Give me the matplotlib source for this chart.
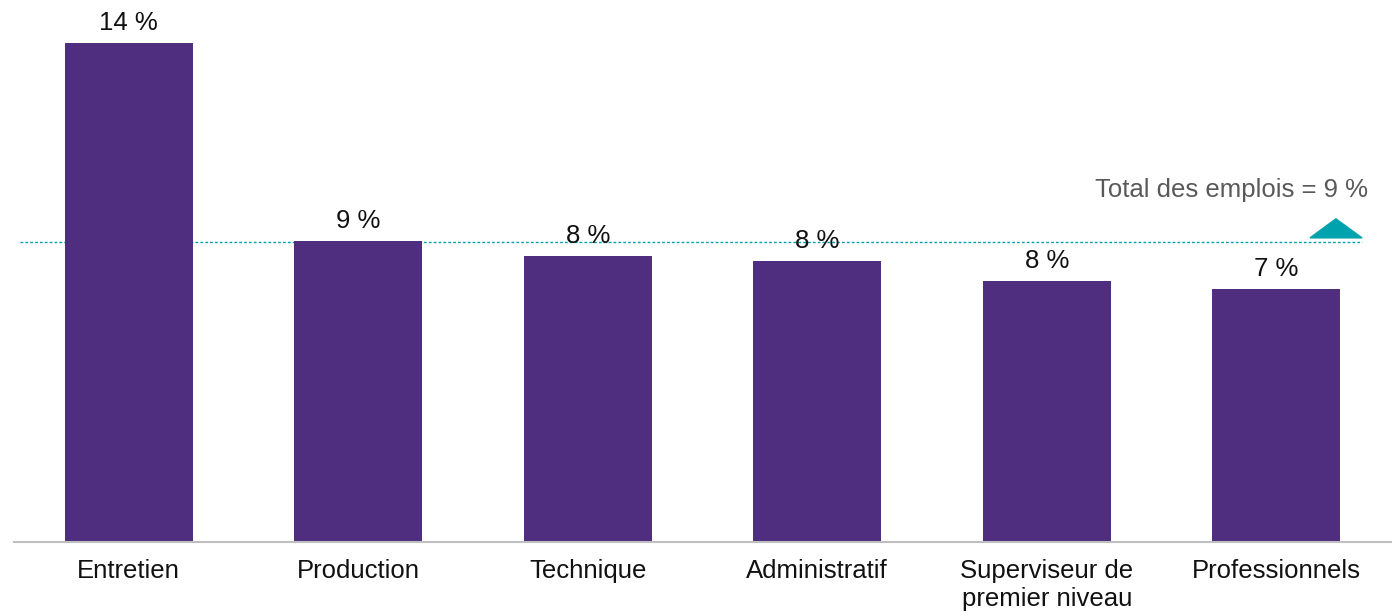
import matplotlib.pyplot as plt
import numpy as np
from matplotlib.patches import Polygon

plt.rcParams['font.family'] = ['Liberation Sans', 'DejaVu Sans']

categories = ["Entretien", "Production", "Technique", "Administratif",
              "Superviseur de\npremier niveau", "Professionnels"]
values = [14.42, 8.70, 8.27, 8.12, 7.54, 7.31]
total_value = 8.67
total_label = "Total des emplois"

bar_color = "#4F2D7F"
line_color = "#00A3AD"

fig = plt.figure(figsize=(13.92, 6.13), dpi=100)
ax = fig.add_axes([14 / 1392, 0.1158, 1377 / 1392, 0.8749])

x = np.arange(len(categories))
bars = ax.bar(x, values, width=0.557, color=bar_color, zorder=2)

for xi, v in zip(x, values):
    ax.annotate(f"{v:.0f} %", (xi, v), xytext=(0, 5.5), textcoords="offset points",
                ha="center", va="bottom", fontsize=18.5, color="#111111")

# reference line for all jobs
ax.axhline(total_value, xmin=0.0044, xmax=0.979, color=line_color,
           linestyle=(0, (2, 1.5)), linewidth=1.0, zorder=1)
tri = Polygon([(5.147, total_value + 0.12), (5.374, total_value + 0.12),
               (5.26, total_value + 0.67)], closed=True, color=line_color, zorder=3)
ax.add_patch(tri)
ax.text(5.40, total_value + 1.50, f"{total_label} = {total_value:.0f} %",
        ha="right", va="center", fontsize=18.5, color="#595959")

ax.set_xlim(-0.5, 5.5)
ax.set_ylim(0, 15.5)
ax.set_xticks(x)
ax.set_xticklabels(categories, fontsize=18.5, color="#111111", linespacing=1.25)
ax.tick_params(axis="x", length=0, pad=12)
ax.set_yticks([])
for side in ["top", "right", "left"]:
    ax.spines[side].set_visible(False)
ax.spines["bottom"].set_color("#BFBFBF")
ax.spines["bottom"].set_linewidth(1.5)

fig.savefig("out.png", dpi=100)
